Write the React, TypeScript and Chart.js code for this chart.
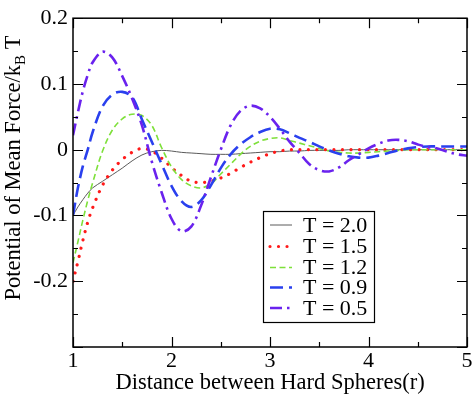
import React, { useEffect, useRef } from "react";
import { Chart, registerables } from "chart.js";

Chart.register(...registerables);

const R = [1.0, 1.05, 1.1, 1.15, 1.2, 1.3, 1.4, 1.5, 1.6, 1.7, 1.8, 1.9, 2.0, 2.1, 2.2, 2.3, 2.4, 2.5, 2.6, 2.7, 2.8, 2.9, 3.0, 3.1, 3.2, 3.3, 3.4, 3.5, 3.6, 3.7, 3.8, 3.9, 4.0, 4.1, 4.2, 4.3, 4.4, 4.5, 4.6, 4.7, 4.8, 4.9, 5.0];

const T20 = [-0.1, -0.087, -0.076, -0.066, -0.058, -0.048, -0.038, -0.028, -0.017, -0.008, -0.003, -0.001, -0.002, -0.004, -0.005, -0.006, -0.007, -0.007, -0.007, -0.006, -0.005, -0.004, -0.003, -0.003, -0.002, -0.002, -0.001, -0.001, -0.001, -0.001, 0, 0, 0, 0, 0, 0, 0, 0, 0, 0, 0, 0, 0];
const T15 = [-0.2, -0.17, -0.138, -0.11, -0.088, -0.054, -0.031, -0.015, -0.004, 0.002, -0.002, -0.013, -0.027, -0.039, -0.048, -0.05, -0.048, -0.043, -0.036, -0.027, -0.019, -0.012, -0.006, -0.002, 0, 0, 0, 0, 0, 0, 0, 0, 0, 0, 0, 0, 0, 0, 0, 0, 0, 0, 0];
const T12 = [-0.172, -0.14, -0.107, -0.077, -0.05, -0.002, 0.03, 0.047, 0.054, 0.052, 0.037, 0.003, -0.026, -0.045, -0.055, -0.058, -0.052, -0.037, -0.022, -0.007, 0.005, 0.013, 0.017, 0.018, 0.014, 0.01, 0.006, 0.002, -0.002, -0.004, -0.005, -0.005, -0.004, -0.003, -0.002, -0.001, 0, 0, 0, 0, 0, 0, 0];
const T09 = [-0.1, -0.058, -0.025, 0.0, 0.027, 0.066, 0.084, 0.088, 0.08, 0.046, 0.012, -0.022, -0.055, -0.078, -0.087, -0.077, -0.054, -0.028, -0.007, 0.008, 0.019, 0.027, 0.032, 0.031, 0.025, 0.018, 0.012, 0.005, -0.001, -0.006, -0.01, -0.012, -0.012, -0.009, -0.005, -0.001, 0.002, 0.004, 0.005, 0.005, 0.005, 0.005, 0.005];
const T05 = [0.022, 0.057, 0.089, 0.114, 0.133, 0.149, 0.14, 0.112, 0.078, 0.037, -0.018, -0.065, -0.105, -0.124, -0.117, -0.085, -0.042, 0.0, 0.037, 0.059, 0.067, 0.063, 0.05, 0.032, 0.012, -0.005, -0.022, -0.031, -0.033, -0.027, -0.016, -0.007, 0.002, 0.009, 0.014, 0.015, 0.013, 0.008, 0.004, 0.002, -0.003, -0.007, -0.009];

const LABELS = ["T = 2.0", "T = 1.5", "T = 1.2", "T = 0.9", "T = 0.5"];
const X_TICKS = [1, 2, 3, 4, 5];
const Y_TICKS = [0.2, 0.1, 0, -0.1, -0.2];

const FONT = "'Liberation Serif', 'Times New Roman', serif";

type Style = { color: string; width: number; dash: number[]; cap: CanvasLineCap };
const STYLES: Style[] = [
  { color: "#5a5a5a", width: 1, dash: [], cap: "butt" },
  { color: "#ff1a1a", width: 3.2, dash: [0.01, 8.5], cap: "round" },
  { color: "#7ee03a", width: 1.6, dash: [6, 3.5], cap: "butt" },
  { color: "#2a40ee", width: 2.6, dash: [13, 6], cap: "butt" },
  { color: "#6a22ee", width: 2.6, dash: [12, 5, 2.5, 5], cap: "butt" },
];

const SERIES = [T20, T15, T12, T09, T05];

const framePlugin = {
  id: "frame",
  afterDraw(chart: any) {
    const { ctx, chartArea } = chart;
    const { left, right, top, bottom } = chartArea;
    const xs = chart.scales.x;
    const ys = chart.scales.y;
    ctx.save();
    ctx.strokeStyle = "#000";
    ctx.lineWidth = 1.5;
    ctx.setLineDash([]);
    ctx.strokeRect(left, top, right - left, bottom - top);
    ctx.lineWidth = 1.2;
    for (let v = 1; v <= 5.001; v += 0.5) {
      const major = Math.abs(v - Math.round(v)) < 1e-6;
      const len = major ? 10 : 5;
      const px = Math.round(xs.getPixelForValue(v)) + 0.5;
      ctx.beginPath();
      ctx.moveTo(px, bottom);
      ctx.lineTo(px, bottom - len);
      ctx.moveTo(px, top);
      ctx.lineTo(px, top + len);
      ctx.stroke();
    }
    for (let i = -6; i <= 4; i++) {
      const v = i * 0.05;
      const major = i % 2 === 0;
      const len = major ? 10 : 5;
      const py = Math.round(ys.getPixelForValue(v)) + 0.5;
      ctx.beginPath();
      ctx.moveTo(left, py);
      ctx.lineTo(left + len, py);
      ctx.moveTo(right, py);
      ctx.lineTo(right - len, py);
      ctx.stroke();
    }
    ctx.fillStyle = "#000";
    ctx.font = `22.5px ${FONT}`;
    ctx.textAlign = "center";
    ctx.textBaseline = "alphabetic";
    ctx.fillText("Distance between Hard Spheres(r)", (left + right) / 2, 389);
    const main = "Potential of Mean Force/k";
    const sub = "B";
    const tail = " T";
    ctx.font = `22.5px ${FONT}`;
    const w1 = ctx.measureText(main).width;
    const w3 = ctx.measureText(tail).width;
    ctx.font = `15px ${FONT}`;
    const w2 = ctx.measureText(sub).width;
    const total = w1 + w2 + w3;
    ctx.save();
    ctx.translate(20, 168);
    ctx.rotate(-Math.PI / 2);
    ctx.textAlign = "left";
    let x0 = -total / 2;
    ctx.font = `22.5px ${FONT}`;
    ctx.fillText(main, x0, 0);
    x0 += w1;
    ctx.font = `15px ${FONT}`;
    ctx.fillText(sub, x0, 5);
    x0 += w2;
    ctx.font = `22.5px ${FONT}`;
    ctx.fillText(tail, x0, 0);
    ctx.restore();
    const bx = 263, by = 211, bw = 111, bh = 111;
    ctx.fillStyle = "#fff";
    ctx.fillRect(bx, by, bw, bh);
    ctx.strokeStyle = "#000";
    ctx.lineWidth = 1.2;
    ctx.strokeRect(bx + 0.5, by + 0.5, bw, bh);
    const rows = [225, 246.5, 267.5, 287.5, 308];
    LABELS.forEach((lab, i) => {
      const s = STYLES[i];
      const y = rows[i];
      ctx.save();
      ctx.strokeStyle = s.color;
      ctx.lineWidth = s.width;
      ctx.lineCap = s.cap;
      ctx.setLineDash(s.dash);
      ctx.beginPath();
      ctx.moveTo(270, y);
      ctx.lineTo(292, y);
      ctx.stroke();
      ctx.restore();
      ctx.fillStyle = "#000";
      ctx.font = `22px ${FONT}`;
      ctx.textAlign = "left";
      ctx.textBaseline = "middle";
      ctx.fillText(lab, 303, y + 1);
    });
    ctx.restore();
  },
};

export default function App() {
  const ref = useRef<HTMLCanvasElement | null>(null);
  useEffect(() => {
    if (!ref.current) return;
    const datasets = SERIES.map((vals, i) => ({
      label: LABELS[i],
      data: R.map((r, j) => ({ x: r, y: vals[j] })),
      borderColor: STYLES[i].color,
      borderWidth: STYLES[i].width,
      borderDash: STYLES[i].dash,
      borderCapStyle: STYLES[i].cap,
      pointRadius: 0,
      fill: false,
      tension: 0.35,
      order: 5 - i,
    }));
    const chart = new Chart(ref.current, {
      type: "line",
      data: { datasets },
      options: {
        animation: false,
        responsive: false,
        layout: { padding: { left: 0, top: 12, right: 7, bottom: 0 } },
        plugins: { legend: { display: false }, tooltip: { enabled: false } },
        scales: {
          x: {
            type: "linear",
            min: 1,
            max: 5,
            afterFit: (s: any) => { s.height = 50; },
            grid: { display: false, drawTicks: false },
            border: { display: false },
            afterBuildTicks: (s: any) => { s.ticks = X_TICKS.map((v) => ({ value: v })); },
            ticks: {
              padding: 1,
              color: "#000",
              font: { family: FONT, size: 22 },
              maxRotation: 0,
              autoSkip: false,
              callback: (v: any) => String(Math.round(Number(v))),
            },
          },
          y: {
            type: "linear",
            min: -0.3,
            max: 0.2,
            afterFit: (s: any) => { s.width = 73; },
            grid: { display: false, drawTicks: false },
            border: { display: false },
            afterBuildTicks: (s: any) => { s.ticks = Y_TICKS.map((v) => ({ value: v })); },
            ticks: {
              padding: 5,
              color: "#000",
              font: { family: FONT, size: 22 },
              autoSkip: false,
              callback: (v: any) => {
                const r = Math.round(Number(v) * 10) / 10;
                return r === 0 ? "0" : r.toFixed(1);
              },
            },
          },
        },
      },
      plugins: [framePlugin],
    });
    return () => chart.destroy();
  }, []);
  return (
    <div style={{ position: "absolute", left: 0, top: 0, width: 474, height: 397, background: "#fff" }}>
      <canvas ref={ref} width={474} height={397} style={{ width: 474, height: 397 }} />
    </div>
  );
}
